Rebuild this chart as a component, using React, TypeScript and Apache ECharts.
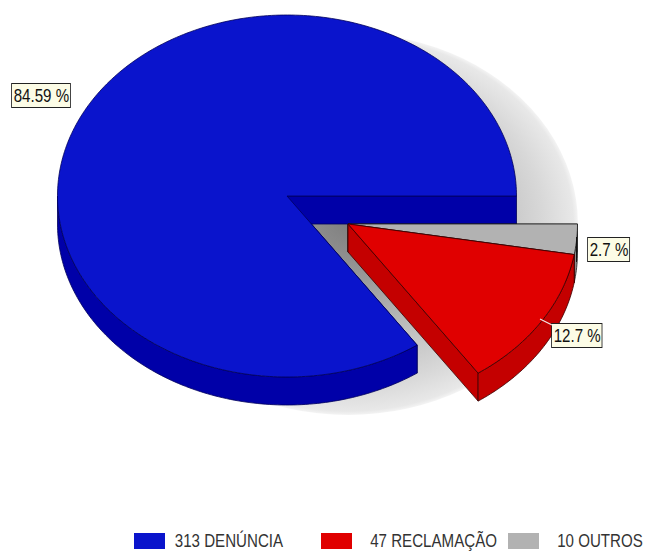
import React, { useEffect, useRef } from "react";
import * as echarts from "echarts";

const categories = ["DENÚNCIA", "RECLAMAÇÃO", "OUTROS"];
const counts = [313, 47, 10];
const colors = ["#0A14CC", "#E00000", "#B2B2B2"];
const wallColors = ["#0000A8", "#C40000", "#8C8C8C"];
const strokeColors = ["#00005A", "#3A0000", "#202020"];

const CX = 287, CY = 196, RX = 229.5, RY = 181, DEPTH = 28;
const EXPLODE = [[0, 0], [61, 28], [61, 28]];
const LABEL_XY = [[12, 84], [552, 324], [588, 238]];
const FONT = "18px 'Liberation Sans', Arial, sans-serif";
const TEXT_SCALE = 0.84;
const total = counts.reduce((a, b) => a + b, 0);
const rad = (d: number) => (d * Math.PI) / 180;

function sliceAngles(i: number): [number, number] {
  // clockwise-on-screen degrees; first slice runs counter-clockwise from east
  let before = 0;
  for (let k = 0; k < i; k++) before += counts[k];
  const a = 360 - ((before + counts[i]) / total) * 360;
  const b = 360 - (before / total) * 360;
  return [a, b];
}

function rim(cx: number, cy: number, a: number, b: number, dy = 0) {
  const pts: number[][] = [];
  const n = Math.max(2, Math.ceil(Math.abs(b - a) / 1));
  for (let k = 0; k <= n; k++) {
    const t = rad(a + ((b - a) * k) / n);
    pts.push([cx + RX * Math.cos(t), cy + RY * Math.sin(t) + dy]);
  }
  return pts;
}

function renderSlice(i: number) {
  return () => {
    const [a, b] = sliceAngles(i);
    const cx = CX + EXPLODE[i][0];
    const cy = CY + EXPLODE[i][1];
    const wallStyle = { fill: wallColors[i], stroke: strokeColors[i], lineWidth: 0.8 };
    const topStyle = { fill: colors[i], stroke: strokeColors[i], lineWidth: 0.8 };
    const children: any[] = [];

    if (i === 0) {
      children.push({
        type: "circle",
        shape: { cx: 0, cy: 0, r: 191 },
        x: 348,
        y: 224,
        scaleX: 230 / 191,
        scaleY: 1,
        style: {
          fill: new echarts.graphic.RadialGradient(0.5, 0.5, 0.5, [
            { offset: 0, color: "#808080" },
            { offset: 0.3, color: "#9A9A9A" },
            { offset: 0.6, color: "#BEBEBE" },
            { offset: 0.85, color: "#D8D8D8" },
            { offset: 0.98, color: "#E8E8E8" },
            { offset: 1, color: "#F4F4F4" },
          ]),
        },
      });
    }

    const cut = (t: number) => {
      const [p] = rim(cx, cy, t, t + 0.01);
      children.push({
        type: "polygon",
        shape: { points: [[cx, cy], p, [p[0], p[1] + DEPTH], [cx, cy + DEPTH]] },
        style: wallStyle,
      });
    };
    cut(a);
    cut(b % 360);

    const from = Math.max(a, 0);
    const to = Math.min(b, 180);
    if (to > from) {
      children.push({
        type: "polygon",
        shape: { points: [...rim(cx, cy, from, to), ...rim(cx, cy, to, from, DEPTH)] },
        style: wallStyle,
      });
    }

    children.push({
      type: "polygon",
      shape: { points: [[cx, cy], ...rim(cx, cy, a, b)] },
      style: topStyle,
    });

    const pct = Number(((counts[i] / total) * 100).toFixed(2));
    children.push({
      type: "text",
      x: LABEL_XY[i][0],
      y: LABEL_XY[i][1],
      scaleX: TEXT_SCALE,
      style: {
        text: `${pct} %`,
        font: FONT,
        fill: "#111111",
        backgroundColor: "#FCFCE6",
        borderColor: "#222222",
        borderWidth: 1,
        padding: [3, 1, 2, 2],
      },
    });
    if (i === 1) {
      children.push({
        type: "line",
        shape: { x1: 540, y1: 319, x2: 552, y2: 325 },
        style: { stroke: "#F4E8E8", lineWidth: 1.2 },
      });
    }
    if (i === 2) {
      children.push({
        type: "line",
        shape: { x1: 576.5, y1: 237, x2: 576.5, y2: 262 },
        style: { stroke: "#111111", lineWidth: 1 },
      });
    }

    // legend entry: swatch + count and name, numbers right-aligned to a column
    const pitch = 187 * i;
    children.push({
      type: "rect",
      shape: { x: 134 + pitch, y: 533, width: 31, height: 16 },
      style: { fill: colors[i] },
    });
    const numWidth = String(counts[i]).length * 18 * 0.556 * TEXT_SCALE;
    children.push({
      type: "text",
      x: 200 + pitch - numWidth,
      y: 541,
      scaleX: TEXT_SCALE,
      style: {
        text: `${counts[i]} ${categories[i]}`,
        font: FONT,
        fill: "#333333",
        verticalAlign: "middle",
      },
    });
    return { type: "group", children };
  };
}

const seriesName = (i: number) => `${counts[i]} ${categories[i]}`;
const drawOrder = [0, 2, 1];

export default function App() {
  const ref = useRef<HTMLDivElement>(null);
  useEffect(() => {
    const chart = echarts.init(ref.current!, undefined, { renderer: "svg" });
    chart.setOption({
      animation: false,
      backgroundColor: "#FFFFFF",
      series: drawOrder.map((i, z) => ({
        type: "custom",
        name: seriesName(i),
        coordinateSystem: "none",
        z: 2 + z,
        silent: true,
        itemStyle: { color: colors[i] },
        data: [[counts[i]]],
        renderItem: renderSlice(i),
      })),
    });
    return () => chart.dispose();
  }, []);
  return <div ref={ref} style={{ position: "fixed", left: 0, top: 0, width: 648, height: 552 }} />;
}
